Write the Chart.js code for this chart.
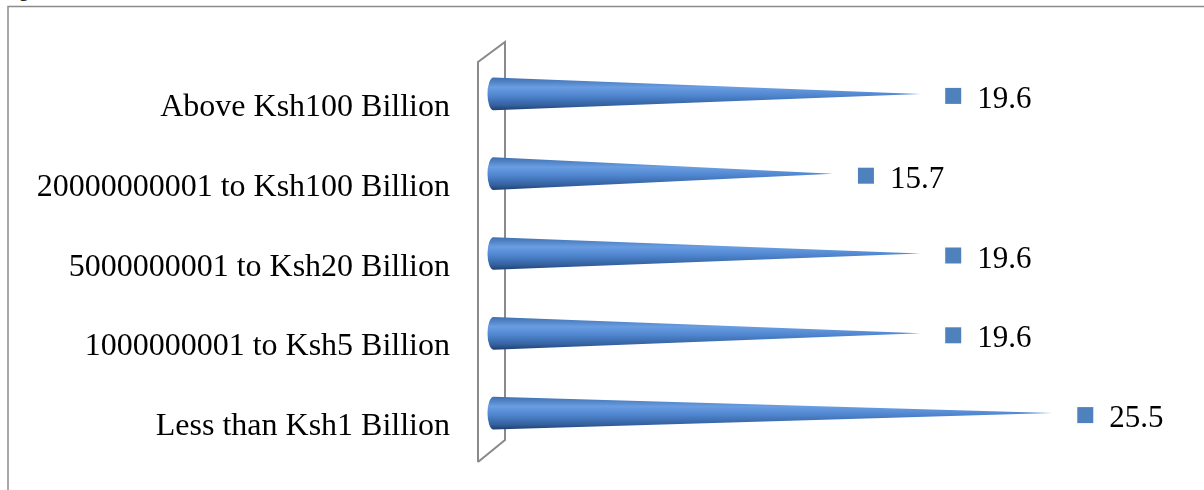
<!DOCTYPE html>
<html>
<head>
<meta charset="utf-8">
<script src="https://cdn.jsdelivr.net/npm/chart.js@4.4.1/dist/chart.umd.min.js"></script>
<style>
  html, body { margin: 0; padding: 0; background: #fff; overflow: hidden; }
  #wrap { position: relative; width: 1204px; height: 490px; }
  #caption { position: absolute; left: 2px; top: -22px; font: 20px "Liberation Serif", "Times New Roman", serif; color: #000; }
  canvas { position: absolute; left: 0; top: 0; }
</style>
</head>
<body>
<div id="wrap">
  <div id="caption">Figure 4.5: Assets</div>
  <canvas id="chart" width="1204" height="490"></canvas>
</div>
<script>
// categories, top to bottom
const categories = [
  'Above Ksh100 Billion',
  '20000000001 to Ksh100 Billion',
  '5000000001 to Ksh20 Billion',
  '1000000001 to Ksh5 Billion',
  'Less than Ksh1 Billion'
];
const values = [19.6, 15.7, 19.6, 19.6, 25.5];
const seriesColor = '#4f81bd';
const serif = '"Liberation Serif", "Times New Roman", serif';

// frame, wall, cones and the text beside them
const conePlugin = {
  id: 'cones',
  beforeDraw(chart) {
    const c = chart.ctx;
    c.save();
    c.strokeStyle = '#8c8c8c';
    c.lineWidth = 1.5;
    c.beginPath();
    c.moveTo(8, 490);
    c.lineTo(8, 6.5);
    c.lineTo(1204, 6.5);
    c.stroke();

    // wall
    c.strokeStyle = '#8a8a8a';
    c.lineWidth = 2;
    c.beginPath();
    c.moveTo(478, 462);
    c.lineTo(478, 62);
    c.lineTo(505, 42);
    c.lineTo(505, 440);
    c.lineTo(478, 462);
    c.stroke();
    c.restore();
  },
  afterDatasetsDraw(chart) {
    const c = chart.ctx;
    const meta = chart.getDatasetMeta(0);
    c.save();
    meta.data.forEach((bar, i) => {
      const x0 = bar.base + 12;
      const x1 = bar.x;
      const h = bar.height;
      const top = bar.y - h / 2;
      const g = c.createLinearGradient(0, top, 0, top + h);
      g.addColorStop(0, '#3d6fb0');
      g.addColorStop(0.3, '#6a9de2');
      g.addColorStop(0.55, '#4f86cf');
      g.addColorStop(0.85, '#34609e');
      g.addColorStop(1, '#203f6c');
      c.fillStyle = g;
      c.beginPath();
      c.moveTo(x0, top);
      c.lineTo(x1, bar.y);
      c.lineTo(x0, top + h);
      c.ellipse(x0, bar.y, 6, h / 2, 0, Math.PI / 2, Math.PI * 1.5, false);
      c.closePath();
      c.fill();

      // category label
      c.fillStyle = '#000';
      c.font = '32px ' + serif;
      c.textBaseline = 'alphabetic';
      c.textAlign = 'right';
      c.fillText(categories[i], 450, bar.y + 22);

      // value label with marker
      const lx = x1 + 25;
      c.fillStyle = seriesColor;
      c.fillRect(lx, bar.y - 6, 16, 16);
      c.fillStyle = '#000';
      c.font = '31px ' + serif;
      c.textAlign = 'left';
      c.fillText(values[i].toFixed(1), lx + 32, bar.y + 14);
    });
    c.restore();
  }
};

new Chart(document.getElementById('chart'), {
  type: 'bar',
  data: {
    labels: categories,
    datasets: [{
      data: values,
      backgroundColor: 'rgba(0,0,0,0)',
      categoryPercentage: 1,
      barPercentage: 0.41
    }]
  },
  options: {
    indexAxis: 'y',
    responsive: false,
    animation: false,
    layout: { padding: { top: 54, bottom: 37, left: 0, right: 51 } },
    plugins: { legend: { display: false }, tooltip: { enabled: false } },
    scales: {
      x: {
        display: false,
        min: 0,
        max: 30
      },
      y: {
        grid: { display: false, drawTicks: false },
        border: { display: false },
        afterFit(s) { s.width = 481.5; },
        ticks: { display: false }
      }
    }
  },
  plugins: [conePlugin]
});
</script>
</body>
</html>
